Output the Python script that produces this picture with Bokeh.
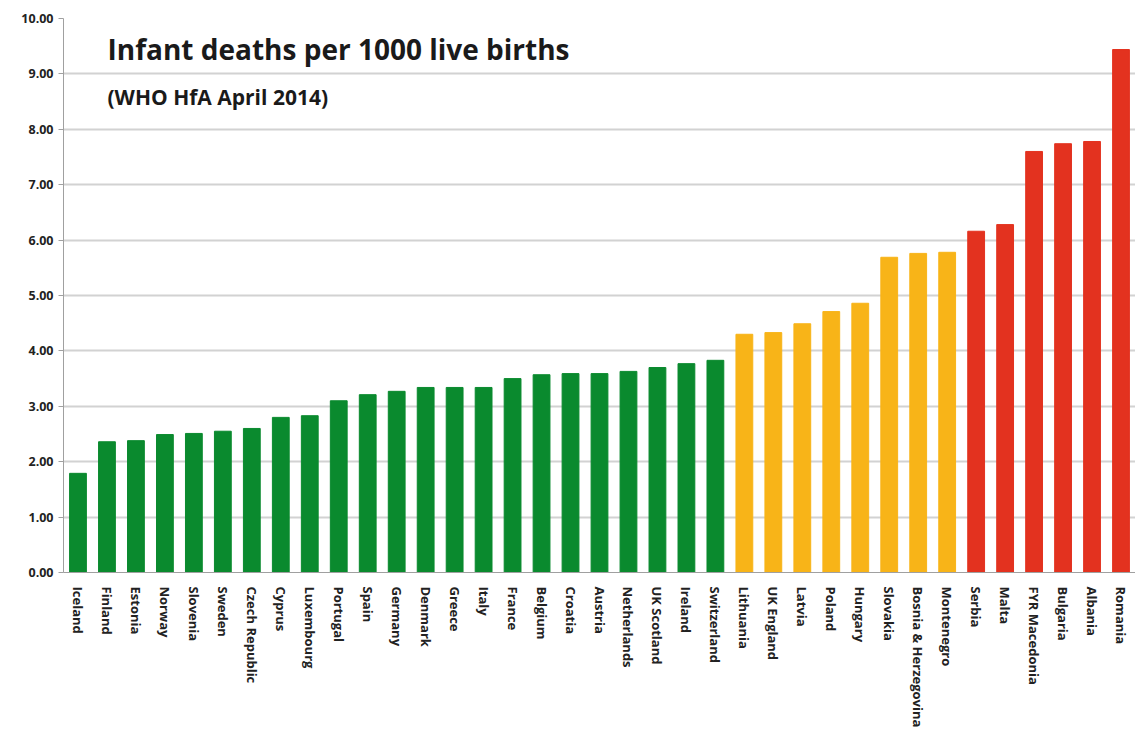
import math
from bokeh.plotting import figure
from bokeh.models import ColumnDataSource, Label, FixedTicker, NumeralTickFormatter, Range1d
from bokeh.embed import file_html
from bokeh.resources import INLINE

green_countries = ["Iceland", "Finland", "Estonia", "Norway", "Slovenia", "Sweden",
                   "Czech Republic", "Cyprus", "Luxembourg", "Portugal", "Spain", "Germany",
                   "Denmark", "Greece", "Italy", "France", "Belgium", "Croatia", "Austria",
                   "Netherlands", "UK Scotland", "Ireland", "Switzerland"]
green_values = [1.79, 2.36, 2.38, 2.49, 2.51, 2.55, 2.60, 2.80, 2.83, 3.10, 3.21, 3.27,
                3.34, 3.34, 3.34, 3.50, 3.57, 3.59, 3.59, 3.63, 3.70, 3.77, 3.83]
orange_countries = ["Lithuania", "UK England", "Latvia", "Poland", "Hungary", "Slovakia",
                    "Bosnia & Herzegovina", "Montenegro"]
orange_values = [4.30, 4.33, 4.49, 4.71, 4.86, 5.69, 5.76, 5.78]
red_countries = ["Serbia", "Malta", "FYR Macedonia", "Bulgaria", "Albania", "Romania"]
red_values = [6.16, 6.28, 7.60, 7.74, 7.78, 9.44]
y_ticks = [0, 1, 2, 3, 4, 5, 6, 7, 8, 9, 10]

GREEN = "#0a8a2e"
ORANGE = "#f8b418"
RED = "#e3321f"

countries = green_countries + orange_countries + red_countries
values = green_values + orange_values + red_values
colors = [GREEN] * len(green_countries) + [ORANGE] * len(orange_countries) + [RED] * len(red_countries)

src = ColumnDataSource(dict(x=countries, top=values, color=colors))

p = figure(x_range=countries, y_range=Range1d(0, 10), width=1135, height=730,
           output_backend="svg", toolbar_location=None,
           min_border_left=63, min_border_right=0, min_border_top=18, min_border_bottom=10)
p.outline_line_color = None
p.background_fill_color = "white"

p.vbar(x="x", top="top", width=0.58, color="color", source=src)

p.yaxis.ticker = FixedTicker(ticks=y_ticks)
p.yaxis.formatter = NumeralTickFormatter(format="0.00")
p.yaxis.major_label_text_font = "Open Sans"
p.yaxis.major_label_text_font_style = "bold"
p.yaxis.major_label_text_font_size = "12.5px"
p.yaxis.major_label_text_color = "#222222"
p.yaxis.axis_line_color = "#a0a0a0"
p.yaxis.major_tick_line_color = "#a0a0a0"
p.yaxis.major_tick_out = 5
p.yaxis.major_tick_in = 0
p.yaxis.minor_tick_line_color = None

p.xaxis.major_label_orientation = -math.pi / 2
p.xaxis.major_label_text_font = "Open Sans"
p.xaxis.major_label_text_font_style = "bold"
p.xaxis.major_label_text_font_size = "13px"
p.xaxis.major_label_text_color = "#222222"
p.xaxis.axis_line_color = "#a0a0a0"
p.xaxis.major_tick_line_color = None
p.xaxis.major_label_standoff = 8

p.xgrid.grid_line_color = None
p.ygrid.grid_line_color = "#d2d2d2"
p.ygrid.grid_line_width = 2

p.add_layout(Label(x=44, y=524, x_units="screen", y_units="screen",
                   text="Infant deaths per 1000 live births",
                   text_font="Open Sans", text_font_style="bold", text_font_size="28px",
                   text_color="#1a1a1a", text_baseline="middle"))
p.add_layout(Label(x=44, y=476, x_units="screen", y_units="screen",
                   text="(WHO HfA April 2014)",
                   text_font="Open Sans", text_font_style="bold", text_font_size="21px",
                   text_color="#1a1a1a", text_baseline="middle"))

open("out.html", "w").write(file_html(p, INLINE))
